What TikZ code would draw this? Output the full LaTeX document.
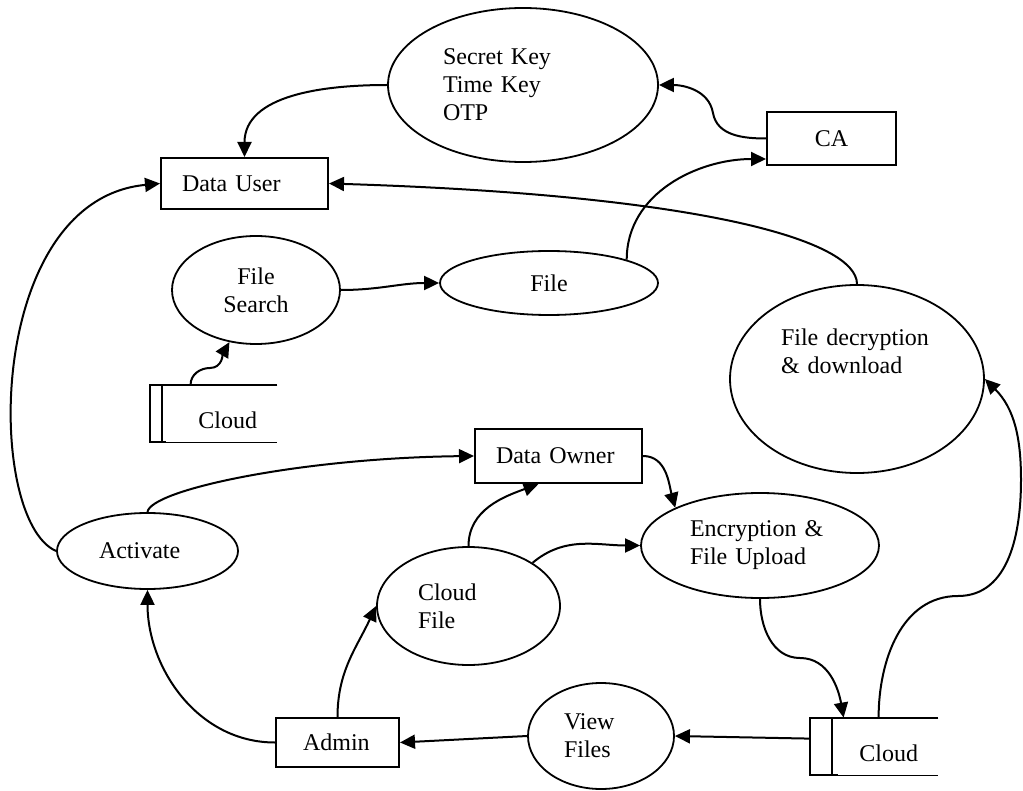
\documentclass[tikz,border=0pt]{standalone}
\usepackage{fontspec}
\setmainfont{Liberation Serif}
\usepackage{tikz}
\usetikzlibrary{%
	arrows.meta,
	shapes,% wg. ellipse
	positioning,
	calc
}
\tikzstyle{process}=[ellipse, draw, line width=0.9pt, inner sep=0pt, align=left]
\tikzstyle{entity}=[rectangle, draw, line width=1pt, inner sep=0pt, align=left]
\tikzstyle{store}=[rectangle, inner sep=0pt]
\tikzstyle{storetext}=[inner sep=0pt, anchor=base west]
\tikzstyle{storeline}=[draw, line width=1pt]
\tikzstyle{flow}=[draw, line width=1pt, -{Triangle[length=7.5pt, width=7pt]}]

\begin{document}
\begin{tikzpicture}[x=0.5pt, y=0.5pt, font=\fontsize{12}{14}\selectfont]
	\useasboundingbox (0,0) rectangle (1023,-791);
	
	% First we draw the processes
	\node[process, minimum width=135pt, minimum height=77pt, text width=80pt] (keys) at (523,-85) {Secret Key\\Time Key\\OTP};
	\node[process, minimum width=84pt, minimum height=54pt, align=center] (search) at (256,-290) {File\\Search};
	\node[process, minimum width=109pt, minimum height=32pt, align=center] (file) at (549,-283) {File};
	\node[process, minimum width=127pt, minimum height=94pt, text width=76pt] (decrypt) at (857,-379) {File decryption\\\& download\\\mbox{}\\\mbox{}};
	\node[process, minimum width=90.5pt, minimum height=38pt, text width=48.5pt] (activate) at (147.5,-551) {Activate};
	\node[process, minimum width=91.5pt, minimum height=59pt, text width=50.5pt] (cloudfile) at (468.5,-606) {Cloud\\File};
	\node[process, minimum width=119pt, minimum height=52.5pt, text width=70pt] (encrypt) at (760,-545.5) {Encryption \&\\File Upload};
	\node[process, minimum width=73pt, minimum height=53pt, text width=37pt] (viewfiles) at (601,-736) {View\\Files};
	
	% Then the entities
	\node[entity, minimum width=83.5pt, minimum height=25.5pt, text width=62.5pt] (datauser) at (244.5,-183.5) {Data User};
	\node[entity, minimum width=64.5pt, minimum height=26.5pt, align=center] (ca) at (831.5,-138.5) {CA};
	\node[entity, minimum width=83.5pt, minimum height=27pt, text width=62.5pt] (dataowner) at (558.5,-456) {Data Owner};
	\node[entity, minimum width=61.5pt, minimum height=24.5pt, text width=34.5pt] (admin) at (337.5,-742.5) {Admin};
	
	% Data stores (open on the right)
	\node[store, minimum width=63.5pt, minimum height=28.5pt] (cloudA) at (213.5,-413.5) {};
	\node[storetext] (cloudAtext) at (198,-428) {Cloud};
	\draw[storeline] (cloudA.north east) -- (cloudA.north west) -- (cloudA.south west) -- ++(16,0);
	\draw[line width=0.5pt] ($(cloudA.south west)+(16,0)$) -- (cloudA.south east);
	\draw[storeline] ($(cloudA.north west)+(12,0)$) -- ($(cloudA.south west)+(12,0)$);
	
	\node[store, minimum width=64pt, minimum height=28.5pt] (cloudB) at (874,-746.5) {};
	\node[storetext] (cloudBtext) at (859,-761) {Cloud};
	\draw[storeline] (cloudB.north east) -- (cloudB.north west) -- (cloudB.south west) -- ++(28,0);
	\draw[line width=0.5pt] ($(cloudB.south west)+(28,0)$) -- (cloudB.south east);
	\draw[storeline] ($(cloudB.north west)+(22,0)$) -- ($(cloudB.south west)+(22,0)$);
	
	% Free ends on the boxes
	\coordinate (caIn) at ($(ca.south west)+(0,7)$);
	\coordinate (ownerIn) at ($(dataowner.south)+(-20,0)$);
	\coordinate (cloudAOut) at ($(cloudA.north west)+(41,0)$);
	\coordinate (cloudBIn) at ($(cloudB.north west)+(34,0)$);
	\coordinate (cloudBUp) at ($(cloudB.north west)+(69,0)$);
	\coordinate (cloudBLeft) at ($(cloudB.north west)+(0,-21)$);
	
	% Connect nodes with flows
	\foreach \source/\dest/\out/\in in {
		keys.west/datauser.north/180/90,
		file.north east/caIn/90/180,
		search.east/file.west/0/180,
		admin.west/activate.south/180/-90,
		admin.north/cloudfile.west/90/-115,
		cloudfile.north/ownerIn/90/200,
		cloudfile.34/encrypt.west/40/180,
		dataowner.east/encrypt.156/0/105
	}
	\path[flow] (\source) to[out=\out,in=\in] (\dest);
	
	\foreach \source/\dest in {cloudBLeft/viewfiles.east, viewfiles.west/admin.east}
	\path[flow] (\source) -- (\dest);
	
	% The longer, bent flows
	\path[flow] (ca.west) to[out=180,in=-80] (713,-113) to[out=100,in=0] (keys.east);
	\path[flow] (cloudAOut) to[out=90,in=180] (210,-368) to[out=0,in=-120] (search.-117);
	\path[flow] (decrypt.north) .. controls (857,-240) and (700,-195) .. (datauser.east);
	\path[flow] (activate.west) .. controls (-15,-520) and (-15,-200) .. (datauser.west);
	\path[flow] (activate.north) .. controls (150,-490) and (300,-458) .. (dataowner.west);
	\path[flow] (encrypt.south) to[out=-90,in=180] (800,-658) to[out=0,in=100] (cloudBIn);
	\path[flow] (cloudBUp) to[out=90,in=180] (958,-596) to[out=0,in=-90] (1021,-480) to[out=90,in=-45] (decrypt.east);
	
\end{tikzpicture}
\end{document}
